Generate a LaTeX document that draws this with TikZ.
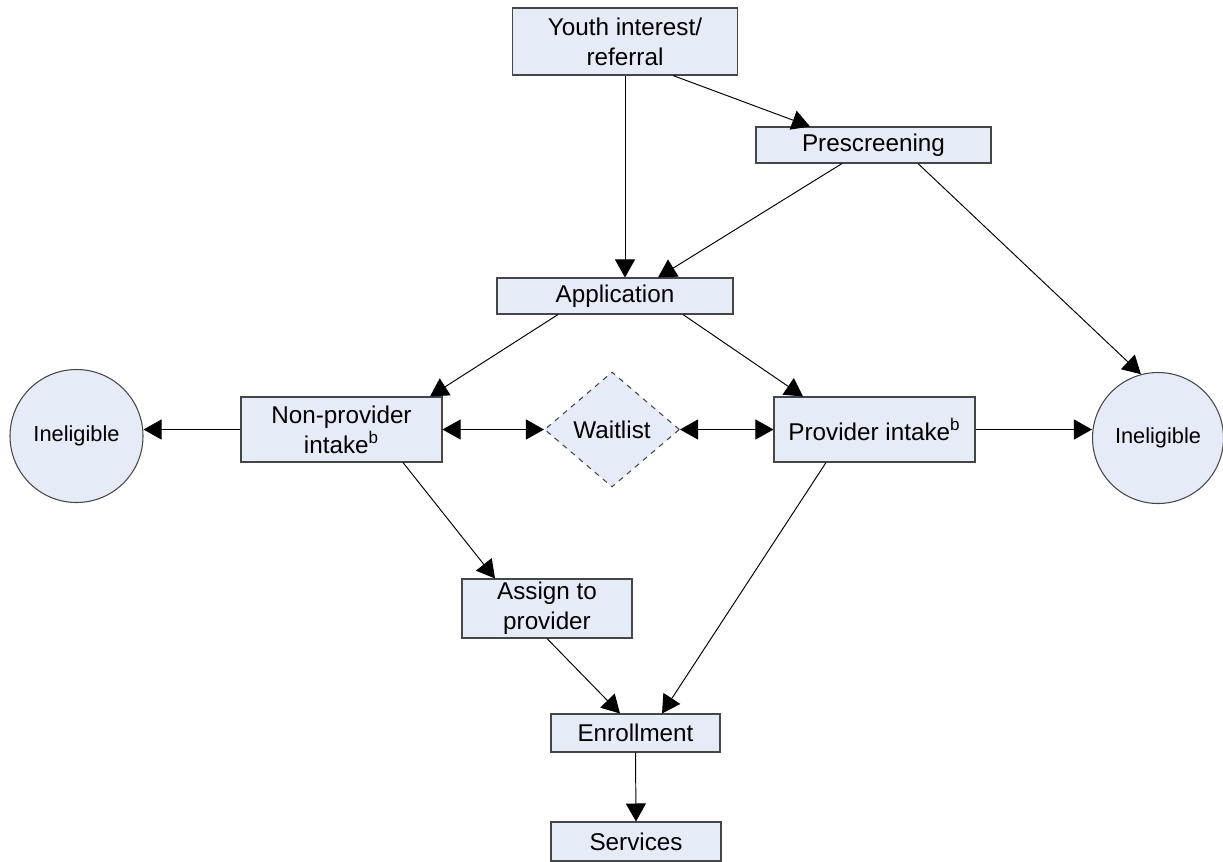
\documentclass[tikz,border=0pt]{standalone}
\usepackage{fontspec}
\setmainfont{Liberation Sans}
\usetikzlibrary{positioning, arrows.meta, shapes.geometric}

\definecolor{boxfill}{RGB}{229,235,247}
\definecolor{boxline}{RGB}{70,70,70}

\begin{document}
\begin{tikzpicture}[
  stepbox/.style={draw=boxline, fill=boxfill, line width=0.6pt, align=center, inner sep=0pt,
    font=\fontsize{13.8pt}{17pt}\selectfont},
  endcirc/.style={draw=boxline, fill=boxfill, circle, line width=0.6pt, inner sep=0pt,
    font=\fontsize{12.4pt}{15pt}\selectfont},
  waitbox/.style={draw=boxline, fill=boxfill, diamond, dashed, line width=0.6pt, inner sep=0pt,
    minimum width=2.7cm, minimum height=2.3cm, font=\fontsize{13.8pt}{17pt}\selectfont},
  arr/.style={line width=0.55pt, -{Triangle[length=0.36cm, width=0.4cm]}},
  dblarr/.style={line width=0.55pt, {Triangle[length=0.36cm, width=0.4cm]}-{Triangle[length=0.36cm, width=0.4cm]}}
]
\useasboundingbox (0,0) rectangle (24.46,-17.22);

% Draw steps
\node[stepbox, minimum width=4.5cm, minimum height=1.34cm] (youth) at (12.5,-0.83) {Youth interest/\\referral};
\node[stepbox, minimum width=4.7cm, minimum height=0.72cm] (pre) at (17.47,-2.9) {Prescreening};
\node[stepbox, minimum width=4.72cm, minimum height=0.72cm] (app) at (12.3,-5.92) {Application};
\node[stepbox, minimum width=4.02cm, minimum height=1.3cm] (nonprov) at (6.83,-8.59) {Non-provider\\intake\textsuperscript{b}};
\node[waitbox] (wait) at (12.24,-8.59) {Waitlist};
\node[stepbox, minimum width=4.02cm, minimum height=1.3cm] (prov) at (17.49,-8.59) {Provider intake\textsuperscript{b}};
\node[stepbox, minimum width=3.4cm, minimum height=1.18cm] (assign) at (10.94,-12.17) {Assign to\\provider};
\node[stepbox, minimum width=3.38cm, minimum height=0.76cm] (enroll) at (12.71,-14.66) {Enrollment};
\node[stepbox, minimum width=3.4cm, minimum height=0.78cm] (serv) at (12.72,-16.83) {Services};

% Draw ineligible ends
\node[endcirc, minimum size=2.66cm] (inL) at (1.53,-8.72) {Ineligible};
\node[endcirc, minimum size=2.62cm] (inR) at (23.16,-8.76) {Ineligible};

% Draw arrows
\draw[arr] (youth.south) -- (youth.south |- app.north);
\draw[arr] ([xshift=0.96cm]youth.south) -- ([xshift=-1.27cm]pre.north);
\draw[arr] ([xshift=-0.63cm]pre.south) -- ([xshift=0.86cm]app.north);
\draw[arr] ([xshift=0.89cm]pre.south) -- (inR.105);
\draw[arr] ([xshift=-1.14cm]app.south) -- ([xshift=1.77cm]nonprov.north);
\draw[arr] ([xshift=1.36cm]app.south) -- ([xshift=-1.43cm]prov.north);
\draw[arr] (nonprov.west) -- (nonprov.west -| inL.east);
\draw[dblarr] (nonprov.east) -- (wait.west);
\draw[dblarr] (wait.east) -- (prov.west);
\draw[arr] (prov.east) -- (prov.east -| inR.west);
\draw[arr] ([xshift=1.23cm]nonprov.south) -- ([xshift=-1.04cm]assign.north);
\draw[arr] (assign.south) -- ([xshift=-0.31cm]enroll.north);
\draw[arr] ([xshift=-0.97cm]prov.south) -- ([xshift=0.53cm]enroll.north);
\draw[arr] (enroll.south) -- (serv.north);

\end{tikzpicture}
\end{document}
